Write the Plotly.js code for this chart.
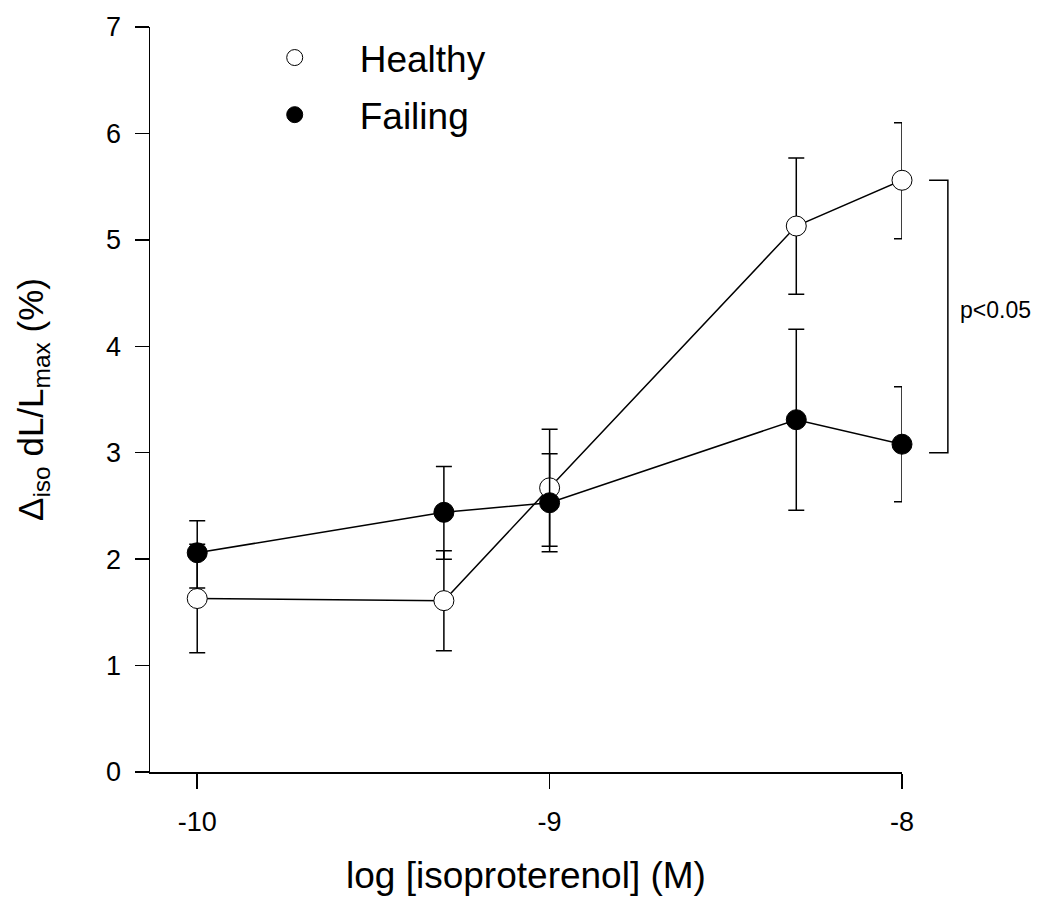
<!DOCTYPE html>
<html>
<head>
<meta charset="utf-8">
<script src="https://cdn.plot.ly/plotly-3.0.1.min.js"></script>
<style>html,body{margin:0;padding:0;background:#fff;}#chart{width:1044px;height:905px;}</style>
</head>
<body>
<div id="chart"></div>
<script>
// log [isoproterenol] (M)
var logConc = [-10, -9.3, -9, -8.3, -8];

var healthyMean = [1.63, 1.61, 2.67, 5.13, 5.56];
var healthyErrPlus = [0.51, 0.47, 0.55, 0.64, 0.54];
var healthyErrMinus = [0.51, 0.47, 0.55, 0.64, 0.55];

var failingMean = [2.06, 2.44, 2.53, 3.31, 3.08];
var failingErrPlus = [0.30, 0.43, 0.46, 0.85, 0.54];
var failingErrMinus = [0.33, 0.44, 0.46, 0.85, 0.54];

var seriesNames = ["Healthy", "Failing"];
var xTickVals = [-10, -9, -8];
var xTickText = ["-10", "-9", "-8"];
var yTickVals = [0, 1, 2, 3, 4, 5, 6, 7];
var sigLabel = "p<0.05";

var FONT = "'Liberation Sans', Arial, Helvetica, sans-serif";

var healthy = {
  x: logConc, y: healthyMean, type: "scatter", mode: "lines+markers",
  name: seriesNames[0], showlegend: false, cliponaxis: false,
  line: {color: "#000", width: 1.5},
  marker: {symbol: "circle", size: 20, color: "#fff", line: {color: "#000", width: 1}},
  error_y: {type: "data", symmetric: false, array: healthyErrPlus, arrayminus: healthyErrMinus,
            color: "#000", thickness: 1.5, width: 8}
};
var failing = {
  x: logConc, y: failingMean, type: "scatter", mode: "lines+markers",
  name: seriesNames[1], showlegend: false, cliponaxis: false,
  line: {color: "#000", width: 1.5},
  marker: {symbol: "circle", size: 20, color: "#000", line: {color: "#000", width: 1}},
  error_y: {type: "data", symmetric: false, array: failingErrPlus, arrayminus: failingErrMinus,
            color: "#000", thickness: 1.5, width: 8}
};
var legHealthy = {
  x: [null], y: [null], type: "scatter", mode: "markers", name: seriesNames[0], legendgroup: "h",
  marker: {symbol: "circle", size: 19, color: "#fff", line: {color: "#000", width: 1}}
};
var legFailing = {
  x: [null], y: [null], type: "scatter", mode: "markers", name: seriesNames[1], legendgroup: "f",
  marker: {symbol: "circle", size: 19, color: "#000", line: {color: "#000", width: 1}}
};

var bracketTop = healthyMean[healthyMean.length - 1];
var bracketBottom = 3.0;

var layout = {
  width: 1044, height: 905,
  margin: {l: 150, r: 142, t: 27, b: 133},
  paper_bgcolor: "#fff", plot_bgcolor: "#fff",
  font: {family: FONT, color: "#000", size: 26},
  showlegend: true,
  legend: {
    x: 0.106, y: 1.0, xanchor: "left", yanchor: "top",
    bgcolor: "rgba(0,0,0,0)", font: {family: FONT, size: 37, color: "#000"},
    itemwidth: 120, tracegroupgap: 6, traceorder: "grouped"
  },
  xaxis: {
    range: [-10.134, -8], autorange: false,
    tickvals: xTickVals, ticktext: xTickText,
    ticks: "outside", ticklen: 15, tickwidth: 1.5, tickcolor: "#000",
    ticklabelstandoff: 10,
    showline: true, linecolor: "#000", linewidth: 1.5,
    showgrid: false, zeroline: false,
    tickfont: {family: FONT, size: 27, color: "#000"},
    title: {text: "log [isoproterenol] (M)", font: {family: FONT, size: 37, color: "#000"}, standoff: 26}
  },
  yaxis: {
    range: [0, 7], autorange: false,
    tickvals: yTickVals,
    ticks: "outside", ticklen: 14, tickwidth: 1.5, tickcolor: "#000",
    ticklabelstandoff: 8,
    showline: true, linecolor: "#000", linewidth: 1.5,
    showgrid: false, zeroline: false,
    tickfont: {family: FONT, size: 27, color: "#000"},
    title: {text: "Δ<sub>iso</sub> dL/L<sub>max</sub> (%)", font: {family: FONT, size: 35, color: "#000"}, standoff: 52}
  },
  shapes: [{
    type: "path", xref: "paper", yref: "y",
    path: "M 1.036," + bracketTop + " L 1.061," + bracketTop + " L 1.061," + bracketBottom + " L 1.036," + bracketBottom,
    line: {color: "#000", width: 1.5}
  }],
  annotations: [{
    xref: "paper", yref: "y", x: 1.075, y: (bracketTop + bracketBottom) / 2 + 0.06,
    xanchor: "left", yanchor: "middle", showarrow: false,
    text: sigLabel, font: {family: FONT, size: 23, color: "#000"}
  }]
};

Plotly.newPlot("chart", [healthy, failing, legHealthy, legFailing], layout, {displayModeBar: false, staticPlot: true});
</script>
</body>
</html>
